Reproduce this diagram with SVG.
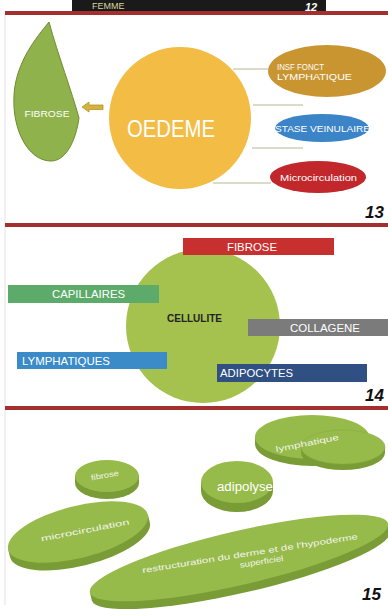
<svg xmlns="http://www.w3.org/2000/svg" width="388" height="609" viewBox="0 0 388 609">
<style>
text{font-family:"Liberation Sans",Arial,sans-serif}
.w{fill:#ffffff}
.sep{fill:#a3302e}
.num{font-size:17px;font-style:italic;font-weight:bold;fill:#111}
.lbl{font-size:11px;fill:#fff}
.conn{stroke:#cfcfb8;stroke-width:1.5;fill:none}
.top{fill:#97bb4a}
.side{fill:#7a9c36}
.t15{font-size:8px;fill:#f2f4ea}
</style>
<rect width="388" height="609" fill="#ffffff"/>
<line x1="5" y1="14" x2="5" y2="605" stroke="#e2e2e2" stroke-width="1"/>

<!-- header -->
<g id="header">
<rect x="72" y="0" width="254" height="12" fill="#1a1a1a"/>
<text x="92" y="9" font-size="9" fill="#d6d69a">FEMME</text>
<text x="305" y="10.5" font-size="11" font-style="italic" font-weight="bold" fill="#ffffff">12</text>
</g>
<rect class="sep" x="5" y="11" width="383" height="4"/>

<!-- section 13 -->
<g id="connectors">
<line class="conn" x1="233" y1="69" x2="268" y2="69"/>
<line class="conn" x1="253" y1="105" x2="303" y2="105"/>
<line class="conn" x1="252" y1="148" x2="303" y2="148"/>
<line class="conn" x1="213" y1="183" x2="271" y2="183"/>
<polygon points="82,107 89,102 89,105 103,105 103,109.5 89,109.5 89,112" fill="#d4b43c" stroke="#b39526" stroke-width="0.8"/>
</g>
<g id="fibrose-leaf">
<path d="M49,22 C36,38 16,62 14,95 C12,130 28,160 50,161 C66,162 76,140 79,118 C72,92 58,55 49,22 Z" fill="#8fb24c" stroke="#6d8d2f" stroke-width="1"/>
<text class="w" x="47" y="117" font-size="9.5" text-anchor="middle" textLength="45" lengthAdjust="spacingAndGlyphs">FIBROSE</text>
</g>
<g id="oedeme">
<circle cx="180" cy="118" r="71" fill="#f2bc45"/>
<text class="w" x="127" y="137" font-size="23" textLength="88" lengthAdjust="spacingAndGlyphs">OEDEME</text>
</g>
<g id="insf">
<ellipse cx="327" cy="71" rx="59" ry="26" fill="#c99530"/>
<text class="w" x="277" y="70" font-size="9" textLength="47" lengthAdjust="spacingAndGlyphs">INSF FONCT</text>
<text class="w" x="277" y="80" font-size="9" textLength="75" lengthAdjust="spacingAndGlyphs">LYMPHATIQUE</text>
</g>
<g id="stase">
<ellipse cx="322" cy="128" rx="47" ry="14" fill="#3c84c8"/>
<text class="w" x="275" y="132" font-size="9.5" textLength="95" lengthAdjust="spacingAndGlyphs">STASE VEINULAIRE</text>
</g>
<g id="micro13">
<ellipse cx="318" cy="177" rx="48" ry="16" fill="#c2272b"/>
<text class="w" x="280" y="181" font-size="9.5" textLength="77" lengthAdjust="spacingAndGlyphs">Microcirculation</text>
</g>
<text class="num" x="365" y="218">13</text>
<rect class="sep" x="5" y="223" width="383" height="4"/>

<!-- section 14 -->
<g id="cellulite">
<circle cx="203" cy="326" r="77" fill="#a6c24e"/>
<text x="167" y="322" font-size="10" font-weight="bold" fill="#222" textLength="55" lengthAdjust="spacingAndGlyphs">CELLULITE</text>
</g>
<g id="fibrose14">
<rect x="183" y="238" width="151" height="17" fill="#c8302f"/>
<text class="lbl" x="227" y="251" textLength="50" lengthAdjust="spacingAndGlyphs">FIBROSE</text>
</g>
<g id="capillaires">
<rect x="8" y="285" width="151" height="18" fill="#5dab6b"/>
<text class="lbl" x="52" y="298" textLength="73" lengthAdjust="spacingAndGlyphs">CAPILLAIRES</text>
</g>
<g id="collagene">
<rect x="248" y="319" width="140" height="17" fill="#7b7b7b"/>
<text class="lbl" x="290" y="332" fill="#eeeeee" textLength="70" lengthAdjust="spacingAndGlyphs">COLLAGENE</text>
</g>
<g id="lymphatiques">
<rect x="17" y="352" width="150" height="17" fill="#3a8bc8"/>
<text class="lbl" x="22" y="365" textLength="88" lengthAdjust="spacingAndGlyphs">LYMPHATIQUES</text>
</g>
<g id="adipocytes">
<rect x="217" y="364" width="150" height="18" fill="#304f82"/>
<text class="lbl" x="220" y="377" textLength="73" lengthAdjust="spacingAndGlyphs">ADIPOCYTES</text>
</g>
<text class="num" x="365" y="401">14</text>
<rect class="sep" x="5" y="406" width="383" height="4"/>

<!-- section 15 -->
<g id="lymphatique15">
<g transform="translate(312,437)">
<path class="side" d="M-57,0 L-57,7 A57 22 0 0 0 57,7 L57,0 Z"/>
<ellipse class="top" cx="0" cy="0" rx="57" ry="22"/>
</g>
<g transform="translate(343,447)">
<path class="side" d="M-42,0 L-42,6 A42 17 0 0 0 42,6 L42,0 Z"/>
<ellipse class="top" cx="0" cy="0" rx="42" ry="17" stroke="#88ab40" stroke-width="0.6"/>
</g>
<text class="t15" x="275" y="446" textLength="64" lengthAdjust="spacingAndGlyphs" transform="rotate(-11 307 442)">lymphatique</text>
</g>
<g id="fibrose15">
<g transform="translate(107,476)">
<path class="side" d="M-32,0 L-32,7 A32 16 0 0 0 32,7 L32,0 Z"/>
<ellipse class="top" cx="0" cy="0" rx="32" ry="16"/>
</g>
<text class="t15" x="91" y="478" textLength="28" lengthAdjust="spacingAndGlyphs" transform="rotate(-10 105 476)">fibrose</text>
</g>
<g id="adipolyse">
<g transform="translate(237,482)">
<path class="side" d="M-36,0 L-36,9 A36 21 0 0 0 36,9 L36,0 Z"/>
<ellipse class="top" cx="0" cy="0" rx="36" ry="21"/>
</g>
<text x="217" y="491" font-size="12.5" fill="#fff" textLength="56" lengthAdjust="spacingAndGlyphs">adipolyse</text>
</g>
<g id="microcirculation15">
<g transform="translate(78,532) rotate(-14)">
<path class="side" d="M-72,0 L-72,8 A72 26 0 0 0 72,8 L72,0 Z"/>
<ellipse class="top" cx="0" cy="0" rx="72" ry="26"/>
</g>
<text class="t15" x="40" y="533" textLength="90" lengthAdjust="spacingAndGlyphs" transform="rotate(-11 85 530)">microcirculation</text>
</g>
<g id="restructuration">
<g transform="translate(239,558) rotate(-13)">
<path class="side" d="M-153,0 L-153,8 A153 27 0 0 0 153,8 L153,0 Z"/>
<ellipse class="top" cx="0" cy="0" rx="153" ry="27"/>
</g>
<text class="t15" x="141" y="556" textLength="218" lengthAdjust="spacingAndGlyphs" transform="rotate(-9 250 553)">restructuration du derme et de l'hypoderme</text>
<text class="t15" x="238" y="566" textLength="44" lengthAdjust="spacingAndGlyphs" transform="rotate(-9 250 553)">superficiel</text>
</g>
<text class="num" x="362" y="600" font-size="19">15</text>
</svg>
